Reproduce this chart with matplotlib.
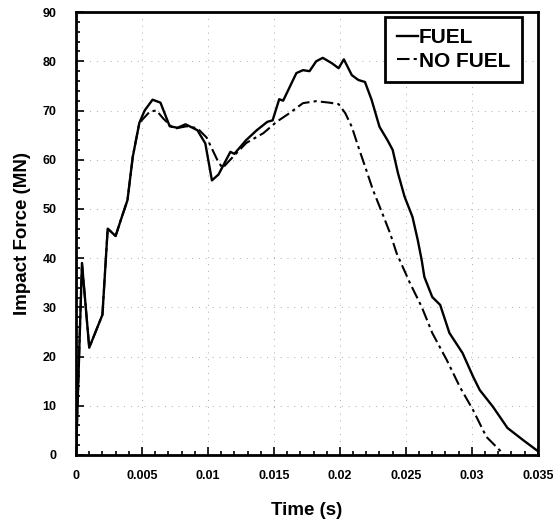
import numpy as np
import matplotlib.pyplot as plt
from matplotlib.ticker import MultipleLocator, FixedLocator, FixedFormatter

# FUEL curve (time in s, force in MN)
t_fuel = [0.0, 0.00045, 0.001, 0.002, 0.0024, 0.003, 0.0034, 0.0039, 0.0043,
          0.0048, 0.0052, 0.0058, 0.0064, 0.0071, 0.0077, 0.0083, 0.0092, 0.0098,
          0.0103, 0.0108, 0.0117, 0.012, 0.0129, 0.0137, 0.0145, 0.0149, 0.0154,
          0.0157, 0.0167, 0.0172, 0.0177, 0.0182, 0.0187, 0.0194, 0.0199, 0.0203,
          0.0209, 0.0214, 0.0219, 0.0224, 0.023, 0.0236, 0.024, 0.0244, 0.0249,
          0.0255, 0.0259, 0.0262, 0.0264, 0.027, 0.0276, 0.0283, 0.0293, 0.0301,
          0.0306, 0.0316, 0.0327, 0.0339, 0.035]
f_fuel = [0.0, 39.0, 21.8, 28.5, 46.0, 44.5, 47.8, 51.8, 60.6,
          67.5, 70.0, 72.2, 71.6, 66.8, 66.5, 67.2, 66.0, 63.3,
          55.8, 57.0, 61.6, 61.2, 64.0, 66.0, 67.7, 68.0, 72.3,
          72.0, 77.6, 78.2, 78.0, 80.0, 80.7, 79.6, 78.6, 80.4,
          77.2, 76.2, 75.8, 72.2, 66.7, 64.0, 62.0, 57.3, 52.5,
          48.4, 43.7, 39.6, 36.2, 32.1, 30.5, 24.8, 20.7, 15.9,
          13.2, 9.8, 5.5, 3.0, 0.8]

# NO FUEL curve
t_nofuel = [0.0, 0.00045, 0.001, 0.002, 0.0024, 0.003, 0.0034, 0.0039, 0.0043,
            0.0048, 0.0056, 0.0061, 0.0066, 0.0074, 0.0084, 0.0092, 0.0099,
            0.0107, 0.0111, 0.0119, 0.0129, 0.0142, 0.0152, 0.0162, 0.0172,
            0.0182, 0.0192, 0.0199, 0.0204, 0.0209, 0.0214, 0.022, 0.0225,
            0.0232, 0.0238, 0.0243, 0.0253, 0.0262, 0.027, 0.0281, 0.0291,
            0.0301, 0.0311, 0.0321, 0.0324]
f_nofuel = [0.0, 39.0, 21.8, 28.5, 46.0, 44.5, 47.8, 51.8, 60.6,
            67.5, 69.8, 70.0, 68.4, 66.3, 66.8, 66.4, 64.5,
            60.0, 58.3, 60.6, 63.4, 65.4, 67.7, 69.5, 71.5,
            71.9, 71.6, 71.3, 69.5, 66.7, 62.6, 57.9, 53.9,
            49.2, 45.1, 41.0, 35.0, 30.1, 24.8, 19.3, 13.8,
            9.1, 3.7, 1.0, 0.0]

x_ticks = [0, 0.005, 0.01, 0.015, 0.02, 0.025, 0.03, 0.035]
x_labels = ['0', '0.005', '0.01', '0.015', '0.02', '0.025', '0.03', '0.035']

plt.rcParams['font.family'] = ['Liberation Sans', 'DejaVu Sans']

fig = plt.figure(figsize=(5.55, 5.26), dpi=100)
ax = fig.add_axes([0.137, 0.135, 0.832, 0.842])

ax.plot(t_fuel, f_fuel, color='black', lw=1.7, label='FUEL')
ax.plot(t_nofuel, f_nofuel, color='black', lw=1.5, linestyle=(0, (6, 2, 1.5, 2)),
        label='NO FUEL')

ax.set_xlim(0, 0.035)
ax.set_ylim(0, 90)
ax.xaxis.set_major_locator(FixedLocator(x_ticks))
ax.xaxis.set_major_formatter(FixedFormatter(x_labels))
ax.xaxis.set_minor_locator(MultipleLocator(0.001))
ax.yaxis.set_major_locator(MultipleLocator(10))
ax.yaxis.set_minor_locator(MultipleLocator(2))

ax.tick_params(which='both', direction='in', top=False, right=False, width=1.2)
ax.tick_params(which='major', length=6, labelsize=9)
ax.tick_params(axis='x', which='major', pad=11)
ax.tick_params(axis='y', which='major', pad=14)
ax.tick_params(which='minor', length=3)
for lab in ax.get_xticklabels() + ax.get_yticklabels():
    lab.set_fontweight('bold')

for s in ax.spines.values():
    s.set_linewidth(2)

ax.grid(True, which='major', color='#aaaaaa', lw=0.7, linestyle=(0, (1, 6)))

ax.set_xlabel('Time (s)', fontsize=13.5, fontweight='bold', labelpad=14)
ax.set_ylabel('Impact Force (MN)', fontsize=13.5, fontweight='bold', labelpad=8)

leg = ax.legend(loc='upper right', bbox_to_anchor=(0.965, 0.989), borderaxespad=0,
                fontsize=15, handlelength=1.0, handletextpad=0.05,
                fancybox=False, framealpha=1, edgecolor='black',
                borderpad=0.55, labelspacing=0.2)
leg.get_frame().set_linewidth(2)
for txt in leg.get_texts():
    txt.set_fontweight('bold')

fig.savefig('out.png', dpi=100)
